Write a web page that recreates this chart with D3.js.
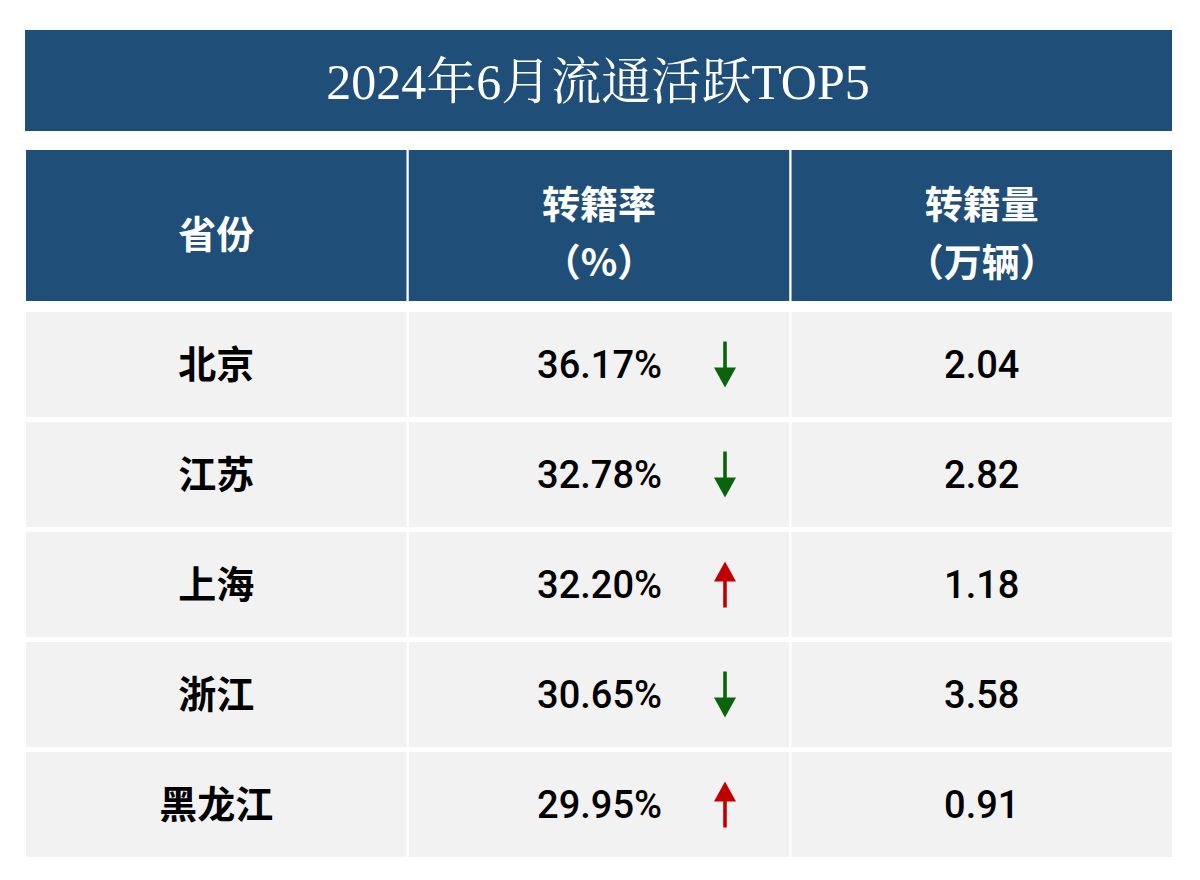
<!DOCTYPE html>
<html><head><meta charset="utf-8">
<script src="https://cdn.jsdelivr.net/npm/d3@7"></script>
<style>body{margin:0;background:#fff}</style></head>
<body><svg id="c" width="1200" height="880"></svg>
<script>
const title = "2024年6月流通活跃TOP5";
const headers = [["省份"],["转籍率","（%）"],["转籍量","（万辆）"]];
const provinces = ["北京","江苏","上海","浙江","黑龙江"];
const rates = [36.17,32.78,32.20,30.65,29.95];
const trends = ["down","down","up","down","up"];
const volumes = [2.04,2.82,1.18,3.58,0.91];

const svg = d3.select("#c");
const navy = "#1f4e79", rowBg = "#f2f2f2";
const cjk = "'Noto Sans CJK SC', sans-serif";
svg.append("rect").attr("x",25).attr("y",30).attr("width",1147).attr("height",101).attr("fill",navy);
svg.append("text").attr("x",598).attr("y",82).attr("text-anchor","middle").attr("dominant-baseline","central")
  .attr("fill","#fff").attr("font-size",50).attr("font-family","'Liberation Serif','Noto Serif CJK SC',"+cjk).text(title);

const x = d3.scaleBand().domain([0,1,2]).range([26,1172]).paddingInner(0.006);
const y = d3.scaleBand().domain(d3.range(5)).range([312,857]).paddingInner(0.045);

headers.forEach((h,i)=>{
  svg.append("rect").attr("x",x(i)).attr("y",150).attr("width",x.bandwidth()).attr("height",151).attr("fill",navy);
  const cx = x(i)+x.bandwidth()/2;
  const t = svg.append("text").attr("text-anchor","middle").attr("fill","#fff").attr("font-size",38)
    .attr("font-weight",700).attr("font-family",cjk);
  if(h.length===1) t.append("tspan").attr("x",cx).attr("y",248).text(h[0]);
  else { t.append("tspan").attr("x",cx).attr("y",218).text(h[0]); t.append("tspan").attr("x",cx).attr("y",276).text(h[1]); }
});

provinces.forEach((p,r)=>{
  const y0=y(r), h=y.bandwidth(), cy=y0+h/2;
  [0,1,2].forEach(i=>svg.append("rect").attr("x",x(i)).attr("y",y0).attr("width",x.bandwidth()).attr("height",h).attr("fill",rowBg));
  svg.append("text").attr("x",x(0)+x.bandwidth()/2).attr("y",cy).attr("dy","0.36em").attr("text-anchor","middle")
    .attr("font-size",38).attr("font-weight",700).attr("font-family",cjk).attr("fill","#000").text(p);
  svg.append("text").attr("x",662).attr("y",cy).attr("dy","0.36em").attr("text-anchor","end")
    .attr("font-size",38).attr("font-weight",500).attr("font-family","Roboto, 'Liberation Sans', sans-serif").attr("fill","#000")
    .text(rates[r].toFixed(2)+"%");
  svg.append("text").attr("x",x(2)+x.bandwidth()/2).attr("y",cy).attr("dy","0.36em").attr("text-anchor","middle")
    .attr("font-size",38).attr("font-weight",500).attr("font-family","Roboto, 'Liberation Sans', sans-serif").attr("fill","#000")
    .text(volumes[r].toFixed(2));
  const ax=725, top=cy-23, bot=cy+23;
  if(trends[r]==="down"){
    const c="#0b640b";
    svg.append("rect").attr("x",ax-1.8).attr("y",top).attr("width",3.6).attr("height",30).attr("fill",c);
    svg.append("path").attr("d",`M${ax-11},${bot-20}L${ax+11},${bot-20}L${ax},${bot}Z`).attr("fill",c);
  } else {
    const c="#c00000";
    svg.append("rect").attr("x",ax-1.8).attr("y",bot-30).attr("width",3.6).attr("height",30).attr("fill",c);
    svg.append("path").attr("d",`M${ax-11},${top+20}L${ax+11},${top+20}L${ax},${top}Z`).attr("fill",c);
  }
});
</script></body></html>
